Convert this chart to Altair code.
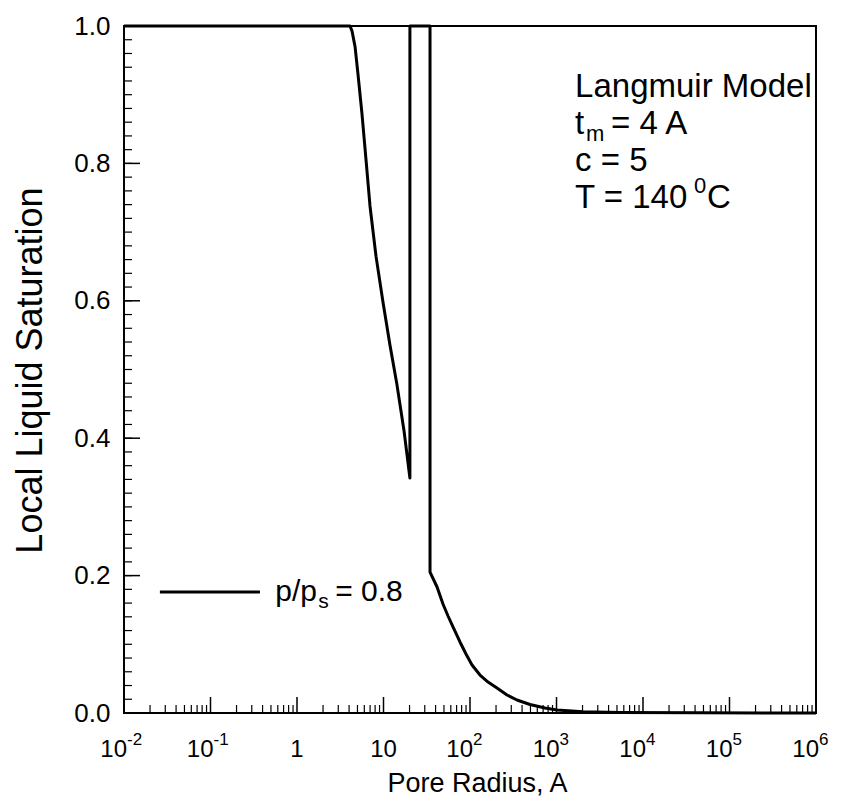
import altair as alt
import pandas as pd

FONT = "Liberation Sans"

# ---- curve data ----
radius = [0.01, 4.1, 4.32, 4.69, 5.07, 5.64, 6.28, 6.98, 8.19, 9.87, 11.9, 14.3, 17.3, 20.2,
          20.2, 34.5, 34.5, 41.6, 48.7, 55.7, 63.6, 76.6, 89.9, 105.5, 130.5, 161.6, 205,
          268, 349, 494, 736, 1014, 2024, 5420, 45600, 1e6]
saturation = [1.0, 1.0, 0.993, 0.97, 0.93, 0.872, 0.805, 0.738, 0.665, 0.598, 0.535, 0.478,
              0.41, 0.342, 1.0, 1.0, 0.205, 0.1834, 0.1587, 0.1412, 0.1252, 0.1034, 0.0859,
              0.0699, 0.0553, 0.0451, 0.0364, 0.0262, 0.0189, 0.0124, 0.0073, 0.0044,
              0.0019, 0.0009, 0.0003, 0.0]

# ---- axis ticks ----
x_major = [1e-2, 1e-1, 1, 10, 1e2, 1e3, 1e4, 1e5, 1e6]
x_minor = [m * 10.0 ** k for k in range(-2, 6) for m in range(2, 10)]
y_major = [0.0, 0.2, 0.4, 0.6, 0.8, 1.0]
y_minor = [i / 50 for i in range(51)]

# tick labels with exponents
exp_vals = [1e-2, 1e-1, 1e2, 1e3, 1e4, 1e5, 1e6]
exp_text = ["-2", "-1", "2", "3", "4", "5", "6"]
plain_vals = [1, 10]
plain_text = ["1", "10"]

# legend / annotation
legend_r = [0.026, 0.373]
legend_s = [0.176, 0.176]
legend_label_r = 0.56
legend_label_s = 0.163
note_r = 1640
note_s = [0.897, 0.843, 0.789, 0.735]

W, H = 692, 687
xs = alt.Scale(type="log", domain=[0.01, 1e6], nice=False)
ys = alt.Scale(domain=[0, 1], nice=False)

x_axis = alt.Axis(labels=False, ticks=False, domain=False, grid=False,
                  title="Pore Radius, A", titleFont=FONT, titleFontSize=27,
                  titleFontWeight="normal", titleColor="black",
                  titleX=353, titleY=78, titleAlign="center",
                  titleBaseline="alphabetic", titleAnchor="start")
y_axis = alt.Axis(values=y_major, format=".1f", ticks=False, tickSize=0,
                  domain=False, grid=False, labelFont=FONT, labelFontSize=26,
                  labelColor="black", labelPadding=14,
                  title="Local Liquid Saturation", titleFont=FONT,
                  titleFontSize=36, titleFontWeight="normal", titleColor="black",
                  titleAngle=270, titleX=-83, titleY=344, titleAlign="center",
                  titleBaseline="alphabetic", titleAnchor="start")

X = lambda f: alt.X(f, scale=xs, axis=x_axis)
Y = lambda f: alt.Y(f, scale=ys, axis=y_axis)

curve_df = pd.DataFrame({"r": radius, "s": saturation, "o": list(range(len(radius)))})

curve = alt.Chart(curve_df).mark_line(color="black", strokeWidth=3, strokeJoin="round").encode(
    x=X("r:Q"), y=Y("s:Q"), order="o:Q")

xmaj = alt.Chart(pd.DataFrame({"v": x_major})).mark_rule(color="black", strokeWidth=1.5).encode(
    x=X("v:Q"), y=alt.value(H), y2=alt.value(H - 16))
xmin = alt.Chart(pd.DataFrame({"v": x_minor})).mark_rule(color="black", strokeWidth=1.2).encode(
    x=X("v:Q"), y=alt.value(H), y2=alt.value(H - 8))
ymaj = alt.Chart(pd.DataFrame({"v": y_major})).mark_rule(color="black", strokeWidth=1.5).encode(
    y=Y("v:Q"), x=alt.value(0), x2=alt.value(16))
ymin = alt.Chart(pd.DataFrame({"v": y_minor})).mark_rule(color="black", strokeWidth=1.2).encode(
    y=Y("v:Q"), x=alt.value(0), x2=alt.value(8))

lab_y = H + 44
exp_df = pd.DataFrame({"v": exp_vals, "e": exp_text})
base10 = alt.Chart(exp_df).mark_text(font=FONT, fontSize=24, align="right", baseline="alphabetic",
                                     dx=3, color="black").encode(
    x=X("v:Q"), y=alt.value(lab_y), text=alt.value("10"))
expo = alt.Chart(exp_df).mark_text(font=FONT, fontSize=17, align="left", baseline="alphabetic",
                                   dx=3, dy=-12, color="black").encode(
    x=X("v:Q"), y=alt.value(lab_y), text="e:N")
plain = alt.Chart(pd.DataFrame({"v": plain_vals, "t": plain_text})).mark_text(
    font=FONT, fontSize=24, align="center", baseline="alphabetic", color="black").encode(
    x=X("v:Q"), y=alt.value(lab_y), text="t:N")

leg_line = alt.Chart(pd.DataFrame({"r": legend_r, "s": legend_s})).mark_line(
    color="black", strokeWidth=3).encode(x=X("r:Q"), y=Y("s:Q"))

def txt(r, s, t, size, dx=0, dy=0):
    return alt.Chart(pd.DataFrame({"r": [r], "s": [s], "t": [t]})).mark_text(
        font=FONT, fontSize=size, align="left", baseline="alphabetic", dx=dx, dy=dy,
        color="black").encode(x=X("r:Q"), y=Y("s:Q"), text="t:N")

legend_txt = [
    txt(legend_label_r, legend_label_s, "p/p", 30),
    txt(legend_label_r, legend_label_s, "s", 21, dx=43, dy=7),
    txt(legend_label_r, legend_label_s, "= 0.8", 30, dx=60),
]

notes = [
    txt(note_r, note_s[0], "Langmuir Model", 33),
    txt(note_r, note_s[1], "t", 33),
    txt(note_r, note_s[1], "m", 22, dx=11, dy=7),
    txt(note_r, note_s[1], "= 4 A", 33, dx=36),
    txt(note_r, note_s[2], "c = 5", 33),
    txt(note_r, note_s[3], "T = 140", 33),
    txt(note_r, note_s[3], "0", 22, dx=119, dy=-15),
    txt(note_r, note_s[3], "C", 33, dx=132),
]

chart = alt.layer(curve, xmaj, xmin, ymaj, ymin, base10, expo, plain, leg_line,
                  *legend_txt, *notes).properties(
    width=W, height=H,
    padding={"left": 124, "top": 26, "right": 28, "bottom": 86},
    autosize=alt.AutoSizeParams(type="none"),
    background="white",
).configure_view(stroke="black", strokeWidth=2)

chart.save("out.html", embed_options={"renderer": "svg", "actions": False})
